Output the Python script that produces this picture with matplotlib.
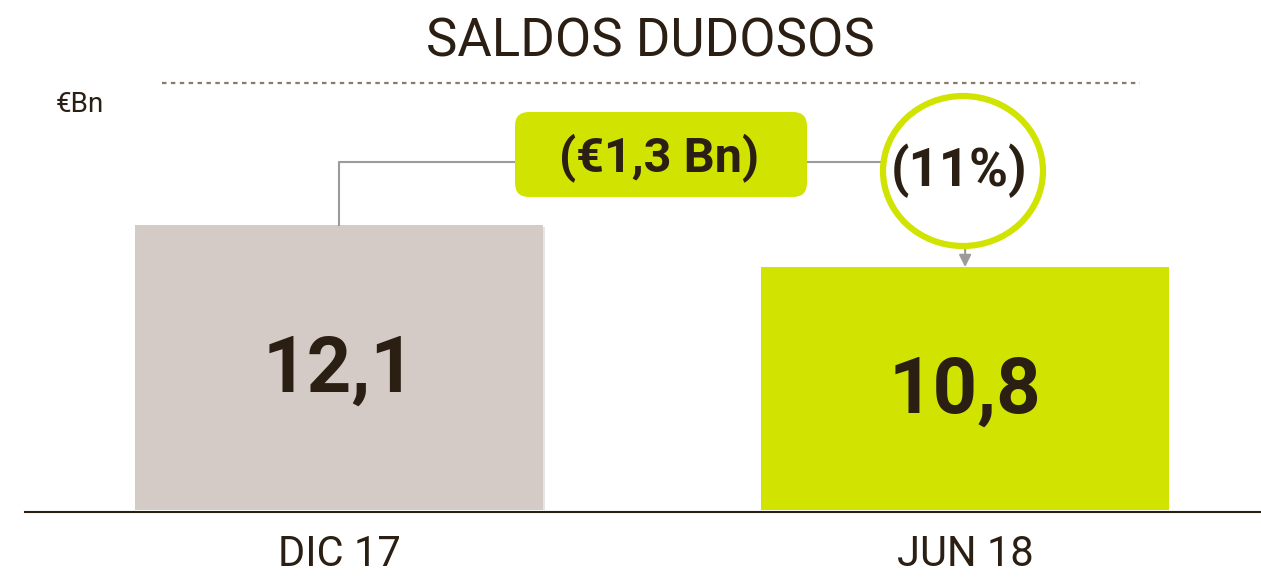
import matplotlib.pyplot as plt
from matplotlib.patches import FancyBboxPatch, Ellipse
import matplotlib.patheffects as pe

# datos
categorias = ['DIC 17', 'JUN 18']
saldos = [12.1, 10.8]
cores = ['#D5CBC6', '#D1E300']
texto = '#2B1F14'
gris = '#9B9B9B'

plt.rcParams['font.family'] = ['Roboto', 'DejaVu Sans']

W, H = 1261, 578
fig = plt.figure(figsize=(W / 100, H / 100), dpi=100)

# ejes principales (barras)
ax = fig.add_axes([25 / W, 1 - 510 / H, 1235 / W, 510 / H])
ax.set_xlim(-0.5016, 1.471)
ax.set_ylim(3.28, 19.07)
barras = ax.bar(range(len(saldos)), saldos, width=0.652, color=cores, zorder=2)
barras[0].set_path_effects([pe.SimplePatchShadow(offset=(1.5, -1.5), shadow_rgbFace='#999999', alpha=0.25),
                            pe.Normal()])

for i, v in enumerate(saldos):
    ax.text(i, (ax.get_ylim()[0] + v) / 2 - 0.1, f'{v:.1f}'.replace('.', ','),
            ha='center', va='center', fontsize=56, fontweight='bold', color=texto, zorder=3)

for s in ['top', 'right', 'left']:
    ax.spines[s].set_visible(False)
ax.spines['bottom'].set_position(('outward', 1.5))
ax.spines['bottom'].set_color(texto)
ax.spines['bottom'].set_linewidth(1.5)
ax.set_yticks([])
ax.set_xticks(range(len(categorias)))
ax.set_xticklabels(categorias, fontsize=30, color=texto)
ax.tick_params(axis='x', length=0, pad=16)
ax.patch.set_alpha(0)

# capa de anotaciones en pixeles
ov = fig.add_axes([0, 0, 1, 1], zorder=5)
ov.set_xlim(0, W)
ov.set_ylim(H, 0)
ov.axis('off')
ov.patch.set_alpha(0)

def top_px(i):
    x, y = ax.transData.transform((i, saldos[i]))
    return x, H - y

ov.text(650, 42, 'SALDOS DUDOSOS', ha='center', va='center', fontsize=38, color=texto)
ov.plot([162, 1140], [83, 83], ls=(0, (2, 2)), lw=1.6, color='#8C7A66')
ov.text(56, 105, '€Bn', ha='left', va='center', fontsize=20, color=texto)

# conector
x0, y0 = top_px(0)
x1, y1 = top_px(1)
y_con = 162
ov.plot([x0, x0, 515], [y0, y_con, y_con], color=gris, lw=1.5, zorder=1)
ov.plot([807, 883], [y_con, y_con], color=gris, lw=1.5, zorder=1)

dif = saldos[1] - saldos[0]
pct = dif / saldos[0] * 100
caja = FancyBboxPatch((515, 112), 292, 85, boxstyle='round,pad=0,rounding_size=14',
                      fc=cores[1], ec='none', zorder=2)
ov.add_patch(caja)
ov.text(659, 158, f'(€{abs(dif):.1f} Bn)'.replace('.', ','), ha='center', va='center',
        fontsize=35, fontweight='bold', color=texto, zorder=3)

circ = Ellipse((963, 171), 160, 150, fc='white', ec=cores[1], lw=4.5, zorder=2)
ov.add_patch(circ)
ov.text(959, 171, f'({abs(pct):.0f}%)', ha='center', va='center',
        fontsize=38, fontweight='bold', color=texto, zorder=3)

ov.annotate('', xy=(x1, y1), xytext=(x1, 247),
            arrowprops=dict(arrowstyle='-|>', color=gris, lw=1.5, mutation_scale=18,
                            shrinkA=0, shrinkB=0), zorder=1)

plt.savefig('out.png', dpi=100)
